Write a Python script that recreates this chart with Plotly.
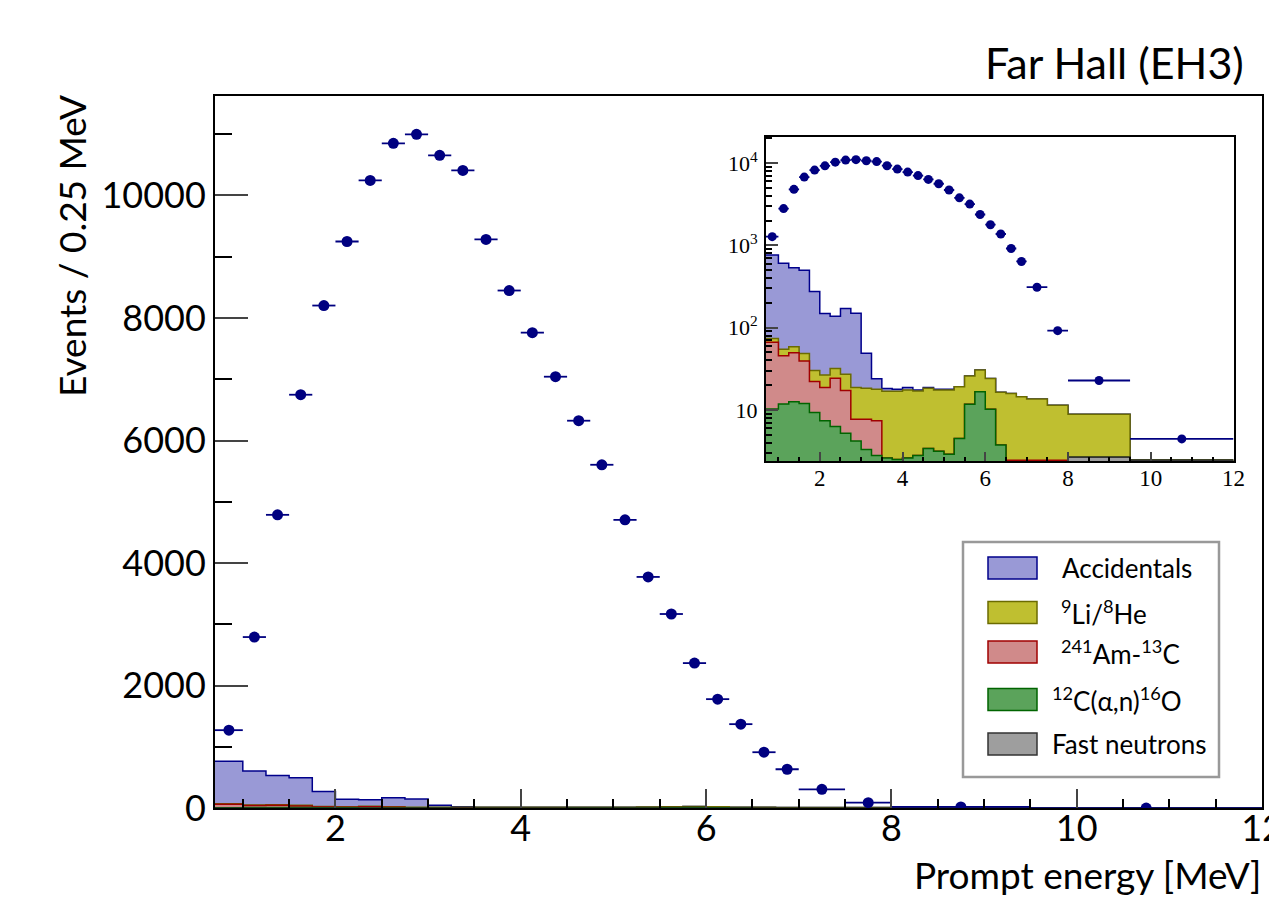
import numpy as np
import plotly.graph_objects as go

# ---------------- data ----------------
bin_edges = [0.7, 1.0, 1.25, 1.5, 1.75, 2.0, 2.25, 2.5, 2.75, 3.0, 3.25, 3.5, 3.75,
             4.0, 4.25, 4.5, 4.75, 5.0, 5.25, 5.5, 5.75, 6.0, 6.25, 6.5, 6.75, 7.0,
             7.5, 8.0, 9.5, 12.0]

data_counts = [1275, 2794, 4788, 6748, 8203, 9248, 10245, 10850, 10997, 10654, 10408,
               9281, 8448, 7761, 7042, 6324, 5605, 4706, 3775, 3170, 2369, 1781, 1373,
               915, 637, 310, 92, 22.8, 4.45]

accidentals = [692, 552, 476, 449, 244, 122, 106, 144, 131, 30.7, 6.2, 1.3, 0.9, 1.2,
               0.5, 0.5, 0.4, 0.3, 0, 0, 0, 0, 0, 0, 0, 0, 0, 0, 0]
li9_he8 = [7.6, 8.9, 9.2, 9.3, 8.0, 7.8, 7.5, 9.9, 11.0, 10.6, 10.4, 14.3, 14.4, 14.9,
           14.2, 14.9, 14.35, 14.6, 14.7, 14.1, 14.0, 14.0, 12.7, 13.45, 12.05, 11.15,
           8.95, 6.19, 0]
am241_c13 = [56.1, 33.9, 37.0, 27.4, 12.8, 11.4, 18.0, 12.0, 3.5, 4.4, 4.6, 0, 0, 0, 0,
             0, 0, 0, 0, 0, 0, 0, 0, 1.45, 1.45, 1.45, 1.45, 0, 0]
c12_alpha_n = [9.8, 11.3, 12.1, 11.5, 8.8, 6.9, 5.8, 4.7, 3.7, 2.8, 2.3, 2.1, 2.0, 2.1,
               2.3, 2.9, 2.65, 2.4, 4.0, 11.2, 16.1, 9.7, 3.26, 0.5, 0.5, 0.5, 0.5, 0, 0]
fast_neutrons = [0.5, 0.5, 0.5, 0.5, 0.5, 0.5, 0.5, 0.5, 0.5, 0.5, 0.5, 0.5, 0.5, 0.5,
                 0.5, 0.5, 0.5, 0.5, 0.5, 0.5, 0.5, 0.5, 0.5, 0.5, 0.5, 0.5, 0.5, 2.66, 2.45]

legend_labels = ["Accidentals", "<sup>9</sup>Li/<sup>8</sup>He",
                 "<sup>241</sup>Am-<sup>13</sup>C",
                 "<sup>12</sup>C(\u03b1,n)<sup>16</sup>O", "Fast neutrons"]

# ---------------- styles ----------------
fills = ["#9999d6", "#bfbf30", "#d08a8a", "#5ba35b", "#9e9e9e"]
lines = ["#00008b", "#6b6b00", "#a00000", "#006400", "#333333"]
DATA_COLOR = "#000080"
FONT = "Lato"
SERIF = "Liberation Serif"
W, H = 1269, 897

edges = np.array(bin_edges)
centers = 0.5 * (edges[1:] + edges[:-1])
widths = edges[1:] - edges[:-1]

# stack (bottom -> top): fast n, alpha-n, AmC, Li/He, accidentals
stack = np.array([fast_neutrons, c12_alpha_n, am241_c13, li9_he8, accidentals], dtype=float)
tops = np.cumsum(stack, axis=0)
order = [4, 3, 2, 1, 0]  # draw top of stack first

fig = go.Figure()

for xa, ya in [("x", "y"), ("x2", "y2")]:
    for k, si in enumerate(order):
        vals = tops[si]
        fig.add_trace(go.Scatter(x=edges, y=list(vals) + [vals[-1]], mode="lines",
                                 line=dict(color=lines[k], width=1.5, shape="hv"),
                                 fill="tozeroy", fillcolor=fills[k],
                                 xaxis=xa, yaxis=ya, showlegend=False, hoverinfo="skip"))
    fig.add_trace(go.Scatter(x=centers, y=data_counts, mode="markers",
                             marker=dict(color=DATA_COLOR, size=11 if xa == "x" else 9),
                             error_x=dict(type="data", array=widths / 2, color=DATA_COLOR,
                                          thickness=1.8, width=0),
                             xaxis=xa, yaxis=ya, showlegend=False))

main_dom_x = [215 / W, 1262 / W]
main_dom_y = [1 - 808.3 / H, 1 - 95.5 / H]
ins_dom_x = [766 / W, 1233.5 / W]
ins_dom_y = [1 - 461 / H, 1 - 136.7 / H]

minor_log = [k * 10 ** d for d in range(0, 5) for k in range(2, 10) if 2.4 < k * 10 ** d < 21000]

fig.update_layout(
    width=W, height=H, margin=dict(l=0, r=0, t=0, b=0),
    paper_bgcolor="white", plot_bgcolor="white",
    showlegend=False,
    xaxis=dict(domain=main_dom_x, range=[0.7, 12], anchor="y", showline=True, linecolor="black",
               linewidth=2, mirror=True, ticks="inside", ticklen=19, tickwidth=2,
               tickvals=[2, 4, 6, 8, 10, 12], tickfont=dict(family=FONT, size=36, color="black"),
               showgrid=False, zeroline=False, automargin=False, ticklabelstandoff=-13,
               ticklabeloverflow="allow",
               minor=dict(ticks="inside", ticklen=9, tickwidth=2, tickcolor="black",
                          dtick=0.5, tick0=0, showgrid=False)),
    yaxis=dict(domain=main_dom_y, range=[0, 11630], anchor="x", showline=True, linecolor="black",
               linewidth=2, mirror=True, ticks="inside", ticklen=33, tickwidth=2,
               tickvals=[0, 2000, 4000, 6000, 8000, 10000], tickformat="d",
               tickfont=dict(family=FONT, size=36, color="black"),
               showgrid=False, zeroline=False, automargin=False, ticklabelstandoff=0,
               ticklabeloverflow="allow",
               minor=dict(ticks="inside", ticklen=17, tickwidth=2, tickcolor="black",
                          dtick=1000, tick0=0, showgrid=False)),
    xaxis2=dict(domain=ins_dom_x, range=[0.7, 12], anchor="y2", showline=True, linecolor="black",
                linewidth=2, mirror=True, ticks="inside", ticklen=9, tickwidth=2,
                tickvals=[2, 4, 6, 8, 10, 12], tickfont=dict(family=SERIF, size=23, color="black"),
                showgrid=False, zeroline=False, automargin=False, ticklabelstandoff=-5,
                ticklabeloverflow="allow",
                minor=dict(ticks="inside", ticklen=4, tickwidth=2, tickcolor="black",
                           dtick=0.5, tick0=0, showgrid=False)),
    yaxis2=dict(domain=ins_dom_y, type="log", range=[0.38, 4.32], anchor="x2", showline=True,
                linecolor="black", linewidth=2, mirror=True, ticks="inside", ticklen=12, tickwidth=2,
                tickvals=[10, 100, 1000, 10000],
                ticktext=["10", "10<sup>2</sup>", "10<sup>3</sup>", "10<sup>4</sup>"],
                tickfont=dict(family=SERIF, size=22, color="black"),
                showgrid=False, zeroline=False, automargin=False, ticklabelstandoff=2,
                ticklabeloverflow="allow",
                minor=dict(ticks="inside", ticklen=6, tickwidth=1.5, tickcolor="black",
                           tickvals=minor_log, showgrid=False)),
)

annotations = [
    dict(text="Far Hall (EH3)", x=1246 / W, y=1 - 63 / H, xref="paper", yref="paper",
         xanchor="right", yanchor="middle", showarrow=False,
         font=dict(family=FONT, size=43, color="black")),
    dict(text="Events / 0.25 MeV", x=71 / W, y=1 - 246 / H, xref="paper", yref="paper",
         xanchor="center", yanchor="middle", textangle=-90, showarrow=False,
         font=dict(family=FONT, size=37, color="black")),
    dict(text="Prompt energy [MeV]", x=1263 / W, y=1 - 874 / H, xref="paper", yref="paper",
         xanchor="right", yanchor="middle", showarrow=False,
         font=dict(family=FONT, size=37, color="black")),
]

shapes = [dict(type="rect", xref="paper", yref="paper", x0=963 / W, x1=1219 / W,
               y0=1 - 777 / H, y1=1 - 542 / H, line=dict(color="#999999", width=2.5),
               fillcolor="white", layer="above")]

leg_centers = [568, 612.5, 652, 699.5, 744]
leg_text_x = [1060, 1059, 1059, 1050, 1050]
for i, lab in enumerate(legend_labels):
    cy = leg_centers[i]
    shapes.append(dict(type="rect", xref="paper", yref="paper", x0=988 / W, x1=1037 / W,
                       y0=1 - (cy + 11) / H, y1=1 - (cy - 11) / H,
                       line=dict(color=lines[i], width=1.5), fillcolor=fills[i], layer="above"))
    annotations.append(dict(text=lab, x=leg_text_x[i] / W, y=1 - cy / H, xref="paper", yref="paper",
                            xanchor="left", yanchor="middle", showarrow=False,
                            font=dict(family=FONT, size=26, color="black")))

fig.update_layout(annotations=annotations, shapes=shapes)

fig.write_html("out.html", config={"displayModeBar": False},
               post_script="document.body.style.margin='0';document.body.style.overflow='hidden';")
